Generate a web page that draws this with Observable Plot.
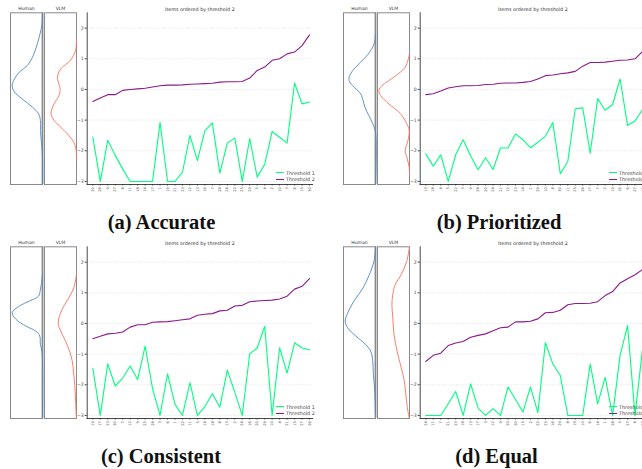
<!DOCTYPE html>
<html>
<head>
<meta charset="utf-8">
<script src="https://cdn.jsdelivr.net/npm/d3@7"></script>
<script src="https://cdn.jsdelivr.net/npm/@observablehq/plot@0.6"></script>
<style>
  body { margin: 0; background: #fff; }
  #fig { position: relative; width: 642px; height: 469px; overflow: hidden; background: #fff; font-family: "DejaVu Sans", sans-serif; }
  .panel { position: absolute; width: 330px; height: 234px; }
  .panel svg { position: absolute; left: 0; top: 0; overflow: visible; }
  .cap { position: absolute; width: 220px; text-align: center; top: 211px; font-family: "Liberation Serif", serif; font-weight: bold; font-size: 20.5px; line-height: 22px; white-space: nowrap; color: #111; }
  .legend { position: absolute; left: 275.5px; top: 169.5px; font-size: 4.9px; line-height: 6.3px; color: #444; white-space: nowrap; }
  .sw { display: inline-block; width: 8.5px; height: 0; vertical-align: middle; margin-right: 2px; position: relative; top: -0.3px; }
</style>
</head>
<body>
<div id="fig"></div>
<script>
// ---------- data ----------
const captions = ["(a) Accurate", "(b) Prioritized", "(c) Consistent", "(d) Equal"];
const seriesNames = ["Threshold 1", "Threshold 2"];
const yTicks = [-3, -2, -1, 0, 1, 2];
const chartTitle = "Items ordered by threshold 2";

// item labels (x tick labels, ordered by threshold 2)
const itemsA = [20, 26, 9, 27, 8, 11, 18, 14, 17, 1, 19, 21, 23, 12, 13, 16, 7, 28, 24, 22, 25, 29, 5, 4, 2, 10, 3, 6, 15, 30];
const itemsB = [13, 18, 4, 5, 22, 3, 9, 28, 20, 24, 21, 12, 23, 14, 1, 29, 10, 8, 30, 11, 25, 26, 17, 7, 2, 19, 16, 6, 27, 15];
const itemsC = [19, 17, 23, 30, 7, 12, 9, 25, 28, 3, 6, 1, 22, 11, 5, 14, 18, 8, 13, 2, 24, 16, 20, 29, 10, 4, 21, 15, 27, 26];
const itemsD = [24, 11, 7, 21, 23, 18, 13, 17, 3, 12, 9, 20, 30, 15, 2, 22, 25, 16, 29, 8, 19, 10, 6, 14, 1, 28, 5, 27, 4, 26];

// Threshold 1 / Threshold 2 values per item
const t1A = [-1.55, -3, -1.66, -2.15, -2.59, -3, -3, -3, -3, -1.07, -3, -3, -2.7, -1.5, -2.32, -1.34, -1.09, -2.73, -1.75, -1.58, -3, -1.6, -2.86, -2.45, -1.37, -1.56, -1.75, 0.21, -0.47, -0.41];
const t2A = [-0.39, -0.28, -0.17, -0.17, -0.03, 0.0, 0.02, 0.04, 0.08, 0.12, 0.14, 0.14, 0.15, 0.17, 0.18, 0.19, 0.2, 0.24, 0.25, 0.25, 0.26, 0.37, 0.62, 0.73, 0.95, 1.0, 1.16, 1.22, 1.43, 1.78];
const t1B = [-2.1, -2.5, -2.13, -3, -2.13, -1.64, -2.17, -2.62, -2.23, -2.61, -1.91, -1.91, -1.45, -1.64, -1.9, -1.72, -1.53, -1.08, -2.75, -2.35, -0.63, -0.6, -2.08, -0.3, -0.68, -0.49, 0.34, -1.17, -1.03, -0.65];
const t2B = [-0.17, -0.14, -0.05, 0.05, 0.09, 0.12, 0.12, 0.13, 0.16, 0.17, 0.2, 0.21, 0.21, 0.23, 0.26, 0.34, 0.45, 0.47, 0.51, 0.54, 0.59, 0.76, 0.88, 0.88, 0.89, 0.92, 0.95, 0.96, 1.0, 1.24];
const t1C = [-1.46, -3, -1.32, -2.04, -1.78, -1.39, -1.83, -0.74, -2.13, -3, -1.64, -2.64, -3, -1.93, -3, -2.71, -2.29, -2.73, -1.52, -2.24, -3, -0.99, -0.8, -0.09, -3, -0.79, -1.62, -0.63, -0.8, -0.86];
const t2C = [-0.5, -0.42, -0.34, -0.32, -0.28, -0.12, -0.04, -0.04, 0.04, 0.05, 0.06, 0.09, 0.12, 0.15, 0.27, 0.3, 0.32, 0.41, 0.43, 0.57, 0.59, 0.71, 0.73, 0.75, 0.76, 0.8, 0.89, 1.12, 1.21, 1.46];
const t1D = [-3, -3, -3, -2.62, -2.22, -3, -1.97, -2.76, -3, -2.78, -3, -2.07, -2.48, -2.89, -2.07, -2.91, -0.63, -1.32, -1.7, -3, -3, -3, -1.32, -2.62, -1.76, -3, -1.04, -0.07, -3, -0.83];
const t2D = [-1.24, -1.04, -0.97, -0.72, -0.64, -0.59, -0.45, -0.39, -0.34, -0.24, -0.14, -0.12, 0.05, 0.05, 0.07, 0.15, 0.35, 0.36, 0.43, 0.61, 0.65, 0.65, 0.66, 0.71, 0.91, 1.04, 1.32, 1.46, 1.59, 1.76];

// density curves: [value, density]
const humanA = [[2.47, 0], [2.09, 0.02], [1.82, 0.08], [1.49, 0.17], [1.05, 0.33], [0.78, 0.5], [0.57, 0.76], [0.35, 0.92], [0.13, 1.0], [-0.09, 0.92], [-0.3, 0.68], [-0.58, 0.33], [-0.79, 0.13], [-1.01, 0.07], [-1.45, 0.06], [-1.77, 0.03], [-2.2, 0], [-3.1, 0]];
const vlmA = [[1.6, 0], [1.27, 0.03], [0.95, 0.2], [0.67, 0.52], [0.4, 0.63], [0.24, 0.6], [0.02, 0.54], [-0.2, 0.58], [-0.47, 0.74], [-0.79, 0.84], [-1.01, 0.74], [-1.23, 0.52], [-1.45, 0.3], [-1.72, 0.09], [-1.99, 0.01], [-2.32, 0]];
const humanB = [[1.82, 0], [1.6, 0.02], [1.38, 0.09], [1.05, 0.33], [0.73, 0.65], [0.46, 0.85], [0.29, 0.87], [0.13, 0.76], [-0.14, 0.49], [-0.36, 0.41], [-0.58, 0.35], [-0.85, 0.22], [-1.12, 0.09], [-1.39, 0], [-3.1, 0]];
const vlmB = [[1.16, 0], [0.73, 0.14], [0.4, 0.52], [0.13, 0.9], [-0.03, 1.01], [-0.2, 0.95], [-0.47, 0.68], [-0.79, 0.3], [-1.12, 0.09], [-1.34, 0.01], [-1.66, 0.05], [-1.99, 0.14], [-2.21, 0.09], [-2.53, 0.01], [-2.75, 0]];
const humanC = [[1.6, 0], [1.27, 0.04], [1.05, 0.08], [0.89, 0.13], [0.73, 0.43], [0.57, 0.76], [0.35, 1.0], [0.13, 0.87], [-0.09, 0.54], [-0.25, 0.22], [-0.41, 0.09], [-0.68, 0.07], [-0.9, 0.02], [-1.23, 0], [-3.1, 0]];
const vlmC = [[1.6, 0], [1.16, 0.09], [0.84, 0.25], [0.51, 0.45], [0.18, 0.58], [-0.03, 0.6], [-0.25, 0.52], [-0.58, 0.36], [-0.9, 0.23], [-1.23, 0.14], [-1.66, 0.09], [-2.1, 0.05], [-2.53, 0.03], [-2.97, 0.01], [-3.1, 0]];
const humanD = [[2.47, 0], [2.03, 0.05], [1.6, 0.2], [1.16, 0.41], [0.73, 0.71], [0.4, 0.89], [0.08, 1.0], [-0.14, 0.92], [-0.41, 0.65], [-0.68, 0.33], [-0.9, 0.16], [-1.23, 0.09], [-1.66, 0.07], [-2.1, 0.03], [-2.53, 0.01], [-2.97, 0]];
const vlmD = [[2.5, 0], [2.03, 0.09], [1.6, 0.27], [1.27, 0.47], [0.95, 0.55], [0.62, 0.58], [0.18, 0.55], [-0.36, 0.51], [-0.9, 0.41], [-1.45, 0.27], [-1.88, 0.17], [-2.32, 0.12], [-2.75, 0.07], [-3.08, 0.01]];

const panels = [
  { cap: captions[0], items: itemsA, t1: t1A, t2: t2A, human: humanA, vlm: vlmA },
  { cap: captions[1], items: itemsB, t1: t1B, t2: t2B, human: humanB, vlm: vlmB },
  { cap: captions[2], items: itemsC, t1: t1C, t2: t2C, human: humanC, vlm: vlmC },
  { cap: captions[3], items: itemsD, t1: t1D, t2: t2D, human: humanD, vlm: vlmD }
];

// ---------- styling / layout ----------
const lineColors = ["#00ff7f", "#8b1a8b"];
const humanColor = "#4f86c2";
const vlmColor = "#f8705c";
const yDomain = [-3.1, 2.5];
const H = 197, MT = 12.3, MB = H - 184;
const offsets = [[0, 0], [333, 0], [0, 234], [333, 234]];
const capCenters = [161.5, 166, 161, 163.5];

function lineChart(p) {
  const rows = [];
  p.items.forEach((lab, i) => {
    rows.push({ i, s: seriesNames[0], v: p.t1[i] });
    rows.push({ i, s: seriesNames[1], v: p.t2[i] });
  });
  return Plot.plot({
    width: 316, height: H,
    marginLeft: 86.7, marginRight: 4, marginTop: MT, marginBottom: MB,
    x: { domain: [-0.75, p.items.length - 0.6], axis: null },
    y: { domain: yDomain, axis: null },
    color: { domain: seriesNames, range: lineColors },
    style: { background: "transparent", fontFamily: "DejaVu Sans, sans-serif" },
    marks: [
      Plot.gridY(yTicks, { stroke: "#d8d8d8", strokeOpacity: 1, strokeWidth: 0.6, strokeDasharray: "1.2,1.2" }),
      Plot.axisY(yTicks, { tickSize: 2, tickPadding: 1.5, fontSize: 4.6, stroke: "#444", fill: "#444", label: null }),
      Plot.axisX(d3.range(p.items.length), { tickSize: 1.5, tickPadding: 1.2, tickRotate: -90, fontSize: 3.6, fill: "#444", stroke: "#444", label: null, tickFormat: i => p.items[i] }),
      Plot.frame({ anchor: "left", stroke: "#333", strokeWidth: 0.9 }),
      Plot.frame({ anchor: "bottom", stroke: "#333", strokeWidth: 0.9 }),
      Plot.line(rows, { x: "i", y: "v", z: "s", stroke: "s", strokeWidth: 1.1 }),
      Plot.text([chartTitle], { frameAnchor: "top", dy: -5.5, fontSize: 4.8, fill: "#333" })
    ]
  });
}

function densityChart(p) {
  const rows = [
    ...p.human.map(([v, d]) => ({ f: "Human", v, d })),
    ...p.vlm.map(([v, d]) => ({ f: "VLM", v, d }))
  ];
  return Plot.plot({
    width: 80, height: H,
    marginLeft: 9.3, marginRight: 4, marginTop: MT, marginBottom: MB,
    fx: { domain: ["Human", "VLM"], padding: 0.06, axis: null },
    x: { domain: [0, 1.055], reverse: true, axis: null },
    y: { domain: yDomain, axis: null },
    color: { domain: ["Human", "VLM"], range: [humanColor, vlmColor] },
    style: { background: "transparent", fontFamily: "DejaVu Sans, sans-serif" },
    marks: [
      Plot.axisFx({ anchor: "top", tickSize: 0, tickPadding: 3, fontSize: 4.6, fill: "#333", label: null }),
      Plot.frame({ stroke: "#8a8a8a", strokeWidth: 1 }),
      Plot.ruleX([{ f: "Human", d: 0 }], { x: "d", fx: "f", stroke: "#8a8a8a", strokeWidth: 1.8 }),
      Plot.line(rows, { x: "d", y: "v", fx: "f", stroke: "f", strokeWidth: 0.9, curve: "catmull-rom" })
    ]
  });
}

const fig = document.getElementById("fig");
panels.forEach((p, k) => {
  const div = document.createElement("div");
  div.className = "panel";
  div.style.left = offsets[k][0] + "px";
  div.style.top = offsets[k][1] + "px";
  div.appendChild(lineChart(p));
  div.appendChild(densityChart(p));
  const leg = document.createElement("div");
  leg.className = "legend";
  leg.innerHTML = seriesNames.map((s, j) =>
    `<div><span class="sw" style="border-top:1.8px solid ${lineColors[j]}"></span>${s}</div>`).join("");
  div.appendChild(leg);
  const cap = document.createElement("div");
  cap.className = "cap";
  cap.style.left = (capCenters[k] - 110) + "px";
  cap.textContent = p.cap;
  div.appendChild(cap);
  fig.appendChild(div);
});
</script>
</body>
</html>
